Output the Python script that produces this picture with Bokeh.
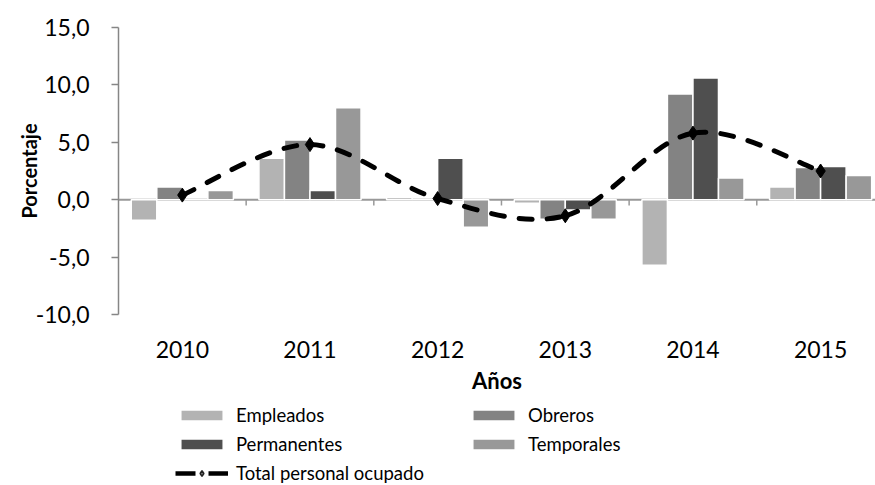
import numpy as np
from bokeh.plotting import figure
from bokeh.layouts import column
from bokeh.models import (Range1d, FixedTicker, Span, Legend, LegendItem,
                          ColumnDataSource)
from bokeh.embed import file_html
from bokeh.resources import INLINE

# ---- data ----
years = ["2010", "2011", "2012", "2013", "2014", "2015"]
empleados = [-1.8, 3.6, 0.2, -0.3, -5.7, 1.1]
obreros = [1.1, 5.2, 0.0, -1.7, 9.2, 2.8]
permanentes = [0.0, 0.8, 3.6, -0.9, 10.6, 2.9]
temporales = [0.8, 8.0, -2.4, -1.7, 1.9, 2.1]
total = [0.4, 4.8, 0.1, -1.4, 5.8, 2.5]
y_ticks = [-10, -5, 0, 5, 10, 15]
y_tick_labels = ["-10,0", "-5,0", "0,0", "5,0", "10,0", "15,0"]

series_names = ["Empleados", "Obreros", "Permanentes", "Temporales"]
series_values = [empleados, obreros, permanentes, temporales]
series_colors = ["#b3b3b3", "#838383", "#4f4f4f", "#989898"]
total_name = "Total personal ocupado"

FONT = "Lato"
n = len(years)
centers = np.arange(n) + 0.5
bar_w = 0.2
offsets = [-0.3, -0.1, 0.1, 0.3]


def add_series(fig):
    rends = []
    for vals, col, off in zip(series_values, series_colors, offsets):
        src = ColumnDataSource(dict(x=centers + off, top=vals))
        rends.append(fig.vbar(x="x", top="top", bottom=0, width=bar_w, source=src,
                              fill_color=col, line_color="white", line_width=1.5))
    return rends


# ---------------- main chart ----------------
p = figure(width=875, height=396, output_backend="svg", toolbar_location=None,
           x_range=Range1d(0, 5.93), y_range=Range1d(y_ticks[0], y_ticks[-1]),
           min_border_left=118, min_border_right=0, min_border_top=27,
           min_border_bottom=80)
p.outline_line_color = None
p.xgrid.visible = False
p.ygrid.visible = False

p.add_layout(Span(location=0, dimension="width", line_color="#999999",
                  line_width=2, level="underlay"))
bounds = np.arange(1, n)
p.segment(x0=bounds, y0=np.zeros(len(bounds)), x1=bounds,
          y1=np.full(len(bounds), -0.5), line_color="#999999", line_width=1.5)

add_series(p)

# smooth total line (cubic Bezier segments through the data points)
ty = np.array(total, dtype=float)
px = centers
pm = np.concatenate([[px[0]], px, [px[-1]]])
ym = np.concatenate([[ty[0]], ty, [ty[-1]]])
x0 = px[:-1]; y0 = ty[:-1]; x1 = px[1:]; y1 = ty[1:]
cx0 = x0 + (pm[2:-1] - pm[0:-3]) / 6.0
cy0 = y0 + (ym[2:-1] - ym[0:-3]) / 6.0
cx1 = x1 - (pm[3:] - pm[1:-2]) / 6.0
cy1 = y1 - (ym[3:] - ym[1:-2]) / 6.0
p.bezier(x0=x0, y0=y0, x1=x1, y1=y1, cx0=cx0, cy0=cy0, cx1=cx1, cy1=cy1,
         line_color="black", line_width=5, line_dash="13 15", line_cap="round")
tsrc = ColumnDataSource(dict(x=centers, y=total))
p.scatter(x="x", y="y", source=tsrc, marker="diamond", size=14,
          fill_color="black", line_color="black")

xa = p.xaxis[0]
xa.ticker = FixedTicker(ticks=list(centers))
xa.major_label_overrides = {float(c): y for c, y in zip(centers, years)}
xa.axis_line_color = None
xa.major_tick_line_color = None
xa.minor_tick_line_color = None
xa.major_tick_out = 0
xa.major_tick_in = 0
xa.major_label_standoff = 26
xa.major_label_text_font = FONT
xa.major_label_text_font_size = "23px"
xa.major_label_text_color = "black"
xa.axis_label = "Años"
xa.axis_label_text_font = FONT
xa.axis_label_text_font_style = "bold"
xa.axis_label_text_font_size = "22px"
xa.axis_label_text_color = "black"
xa.axis_label_standoff = 6

ya = p.yaxis[0]
ya.ticker = FixedTicker(ticks=y_ticks)
ya.major_label_overrides = {float(t): l for t, l in zip(y_ticks, y_tick_labels)}
ya.axis_line_color = "#868686"
ya.axis_line_width = 1.5
ya.major_tick_line_color = "#868686"
ya.major_tick_line_width = 1.5
ya.major_tick_out = 7
ya.major_tick_in = 0
ya.minor_tick_line_color = None
ya.major_label_standoff = 22
ya.major_label_text_font = FONT
ya.major_label_text_font_size = "23px"
ya.major_label_text_color = "black"
ya.axis_label = "Porcentaje"
ya.axis_label_text_font = FONT
ya.axis_label_text_font_style = "bold"
ya.axis_label_text_font_size = "20px"
ya.axis_label_text_color = "black"
ya.axis_label_standoff = -8

# ---------------- legend strip ----------------
lg = figure(width=875, height=89, output_backend="svg", toolbar_location=None,
            x_range=Range1d(100, 101), y_range=Range1d(100, 101),
            x_axis_location=None, y_axis_location=None, min_border=0)
lg.outline_line_color = None
lg.xgrid.visible = False
lg.ygrid.visible = False
lbars = add_series(lg)
lsrc = ColumnDataSource(dict(x=centers, y=total))
lline = lg.line(x="x", y="y", source=lsrc, line_color="black", line_width=4.5,
                line_dash="20 13")
lmark = lg.scatter(x="x", y="y", source=lsrc, marker="diamond", size=15,
                   fill_color="#808080", line_color="#222222", line_width=1.5)

items = [
    LegendItem(label=series_names[0], renderers=[lbars[0]]),
    LegendItem(label=series_names[1], renderers=[lbars[1]]),
    LegendItem(label=series_names[2], renderers=[lbars[2]]),
    LegendItem(label=series_names[3], renderers=[lbars[3]]),
    LegendItem(label=total_name, renderers=[lline, lmark]),
]
legend = Legend(items=items, orientation="horizontal", ncols=2, location=(57, 0),
                glyph_width=53, glyph_height=14, label_standoff=8,
                label_width=226, label_height=24, spacing=5, padding=0, margin=0,
                label_text_font=FONT, label_text_font_size="18.5px",
                label_text_color="black", background_fill_alpha=0,
                border_line_color=None)
lg.add_layout(legend, "center")

open("out.html", "w").write(file_html(column(p, lg, spacing=0), INLINE))
